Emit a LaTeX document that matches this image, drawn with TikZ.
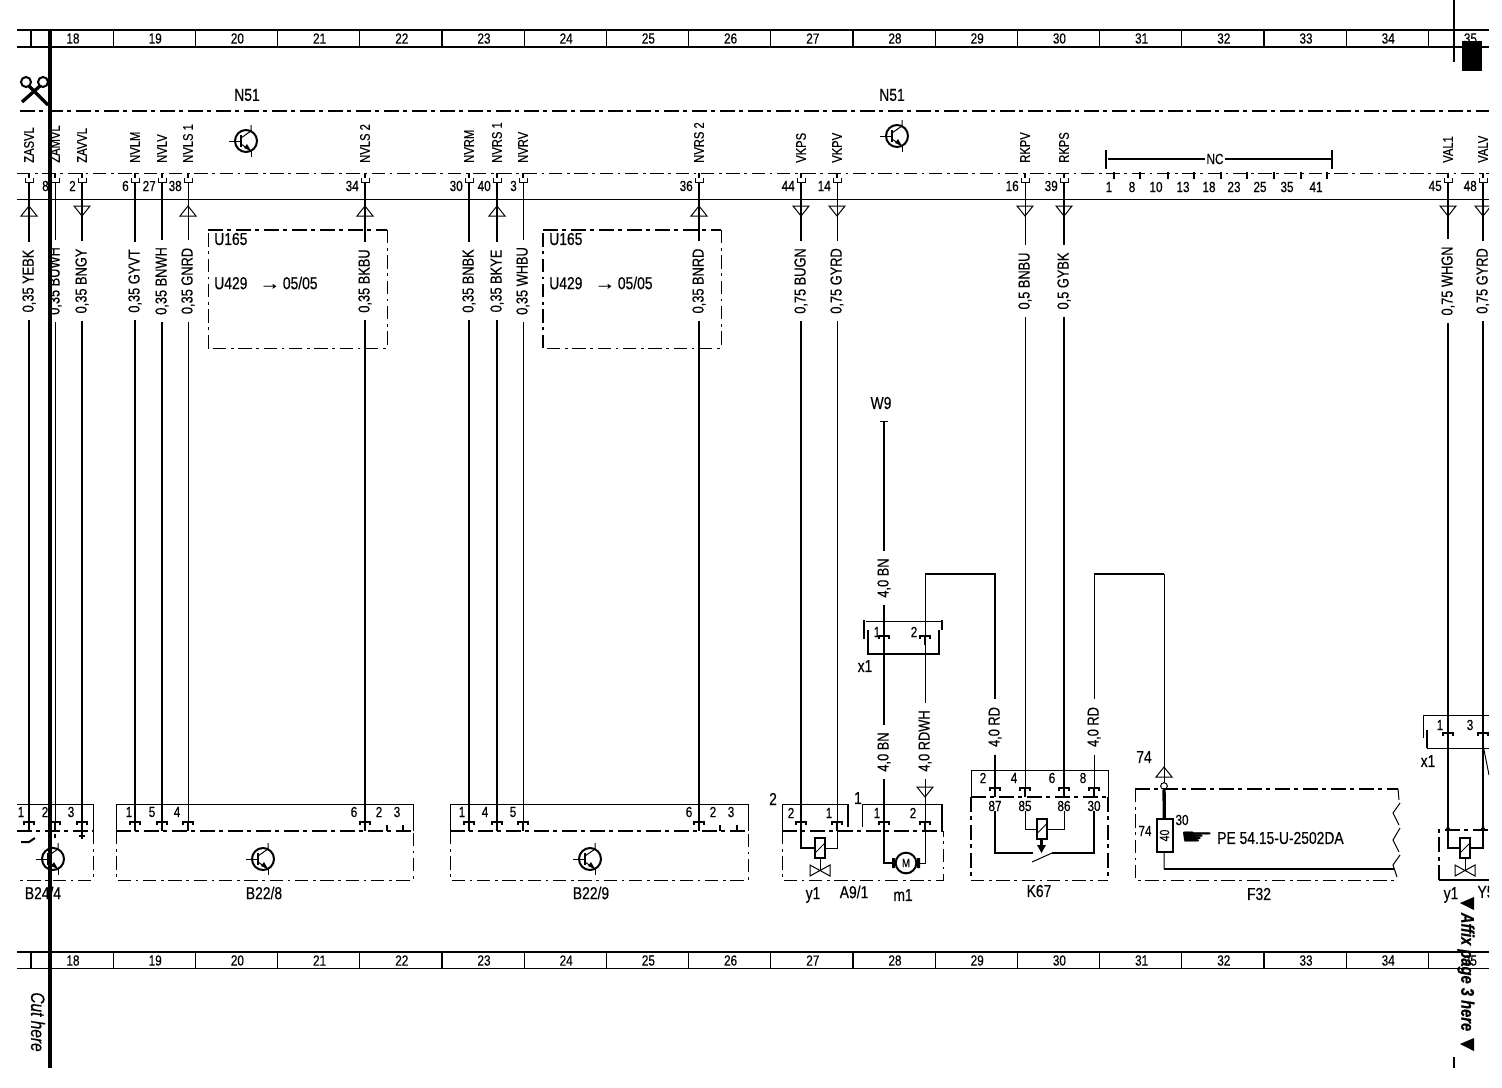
\documentclass[tikz,border=0pt]{standalone}
\usepackage{fontspec}
\setmainfont[FakeStretch=0.8,FakeBold=0.4]{Liberation Sans}
\newfontfamily\handfont{DejaVu Sans}
\tikzset{
	wirethick/.style={line width=1.5pt},
	wirethin/.style={line width=.75pt},
	dashthick/.style={line width=1.5pt,dash pattern=on 11pt off 3.5pt on 3pt off 3.5pt},
	dashthin/.style={line width=.75pt,dash pattern=on 10pt off 3.5pt on 2pt off 3.5pt},
	lab/.style={inner sep=0pt,font=\fontsize{11}{12}\selectfont},
	biglab/.style={inner sep=0pt,font=\fontsize{13}{14}\selectfont},
	siglab/.style={inner sep=0pt,font=\fontsize{10.5}{12}\selectfont,rotate=90,anchor=west},
	wirelab/.style={inner xsep=5.5pt,inner ysep=1pt,rotate=90,font=\fontsize{12}{13}\selectfont},
	pinup/.pic={
		\draw [line width=2pt] (0,-9) -- (0,-4);
		\draw [wirethin] (-4,-4) -- (-4,0) -- (4,0) -- (4,-4);
	},
	pindown/.pic={
		\draw [wirethick] (-5,3) -- (-5,0) -- (5,0) -- (5,3);
		\draw [line width=2pt] (0,0) -- (0,9);
	},
	triup/.pic={\draw [wirethin] (-8,5) -- (0,-5) -- (8,5) -- cycle;},
	tridown/.pic={\draw [wirethin] (-8,-5) -- (0,5) -- (8,-5) -- cycle;},
	trinone/.pic={},
	transistor/.pic={
		\draw [wirethick] (0,0) circle (11);
		\draw [wirethin] (-17,0) -- (-5,0);
		\draw [wirethick] (-5,-6) -- (-5,6);
		\draw [wirethin] (-5,-3) -- (5,-10) -- (5,-16);
		\draw [wirethin] (5,10) -- (5,16);
		\draw [wirethin] (-5,3) -- (5,10);
		\fill (5,10) -- (-2,7) -- (1,3) -- cycle;
	},
	valve/.pic={
		\draw [wirethin] (0,10) -- (0,22);
		\draw [wirethick] (-5,-10) rectangle (5,10);
		\draw [wirethin] (-5,5) -- (5,-5);
		\draw [wirethin] (-10,17) -- (10,28) -- (10,17) -- (-10,28) -- cycle;
	},
}
\begin{document}
\begin{tikzpicture}[x=.75pt,y=-.75pt]
	\useasboundingbox (0,0) rectangle (1502,1088);
	\clip (0,0) rectangle (1489,1088);
	% Rulers
	\foreach \y/\yb/\w in {30/47/wirethick,952/968/wirethin} {
		\draw [wirethick] (17,\y) -- (1489,\y);
		\draw [\w] (17,\yb) -- (1489,\yb);
		\foreach \n [evaluate=\n as \xa using 31+82.2*\n, evaluate=\n as \col using int(18+\n)] in {0,...,17} {
			\draw [line width=1pt] (\xa,\y) -- (\xa,\yb);
			\node [lab] (col\col at\y) at (\xa+42,\y+8.5) {\col};
		}
	}
	% Scissors
	\draw [line width=1.5pt] (26,82) circle (5) (43,82) circle (5);
	\draw [line width=2.5pt] (29,86) -- (48,105) (40,86) -- (22,102);
	% Header
	\draw [dashthick] (20,111) -- (1489,111);
	\draw [dashthin] (17,173) -- (1489,173);
	\draw [wirethin] (17,199) -- (1489,199);
	\node [biglab] (n51a) at (247,95) {N51};
	\node [biglab] (n51b) at (892,95) {N51};
	\pic at (246,141) {transistor};
	\pic at (897,136) {transistor};
	% Wires
	\foreach \x/\sig/\nr/\wt/\gauge/\tri/\yend in {
		29/ZASVL//wirethick/{0,35 YEBK}/triup/822,
		55/ZAMVL/8/wirethin/{0,35 BUWH}/trinone/822,
		82/ZAVVL/2/wirethick/{0,35 BNGY}/tridown/822,
		135/NVLM/6/wirethick/{0,35 GYVT}/trinone/822,
		162/NVLV/27/wirethick/{0,35 BNWH}/trinone/822,
		188/NVLS 1/38/wirethin/{0,35 GNRD}/triup/822,
		365/NVLS 2/34/wirethick/{0,35 BKBU}/triup/822,
		469/NVRM/30/wirethick/{0,35 BNBK}/trinone/822,
		497/NVRS 1/40/wirethick/{0,35 BKYE}/triup/822,
		523/NVRV/3/wirethin/{0,35 WHBU}/trinone/822,
		699/NVRS 2/36/wirethick/{0,35 BNRD}/triup/822,
		801/VKPS/44/wirethick/{0,75 BUGN}/tridown/822,
		837/VKPV/14/wirethin/{0,75 GYRD}/tridown/822,
		1025/RKPV/16/wirethin/{0,5 BNBU}/tridown/788,
		1064/RKPS/39/wirethick/{0,5 GYBK}/tridown/788,
		1448/VAL1/45/wirethick/{0,75 WHGN}/tridown/733,
		1483/VALV/48/wirethick/{0,75 GYRD}/tridown/733%
	} {
		\node [siglab] (sig\x) at (\x,163) {\sig};
		\pic at (\x,182) {pinup};
		\node [lab,anchor=east] (nr\x) at (\x-6,186) {\nr};
		\coordinate (top\x) at (\x,182);
		\node [wirelab] (gauge\x) at (\x,281) {\gauge};
		\coordinate (bot\x) at (\x,\yend);
		\draw [\wt] (top\x) -- (gauge\x);
		\draw [\wt] (gauge\x) -- (bot\x);
		\pic at (\x,211) {\tri};
		\pic at (\x,\yend) {pindown};
	}
	% NC
	\draw [wirethick] (1106,150) -- (1106,169) (1332,150) -- (1332,169);
	\node [lab,fill=white,inner xsep=1pt] (nc) at (1215,159) {NC};
	\draw [wirethick] (1108,159) -- (nc) -- (1332,159);
	\foreach \x/\nr/\xn in {1114/1/1109,1140/8/1132,1168/10/1156,1194/13/1183,1221/18/1209,1247/23/1234,1274/25/1260,1301/35/1287,1327/41/1316} {
		\draw [line width=2pt] (\x,172) -- (\x,179);
		\node [lab] (ncpin\nr) at (\xn,187) {\nr};
	}
	% Boxes U165
	\foreach \xa/\xb/\s in {208/387/wirethin,543/721/wirethick} {
		\draw [dashthick] (\xa,230) -- (\xb,230);
		\draw [dashthin] (\xb,230) -- (\xb,348) -- (\xa,348);
		\draw [dashthin,\s] (\xa,348) -- (\xa,230);
		\node [biglab,anchor=west] (ua\xa) at (\xa+6,239) {U165};
		\node [biglab,anchor=west] (ub\xa) at (\xa+6,283) {U429\hspace{9pt}\scalebox{1.5}[1]{→}\hspace{2pt}05/05};
	}
	% Sensor B24/4
	\draw [wirethin] (17,804) -- (93,804) -- (93,831);
	\draw [dashthick] (17,831) -- (93,831);
	\draw [dashthin] (93,831) -- (93,880) -- (17,880);
	\draw [wirethick] (21,842) -- (29,842) -- (35,838);
	\draw [wirethick] (82,832) -- (82,839) (79,836) -- (85,836);
	\draw [wirethick] (55,834) -- (55,838);
	\pic at (53,859) {transistor};
	\foreach \x/\nr in {21/1,45/2,71/3} {
		\node [lab] (bp\nr) at (\x,812) {\nr};
	}
	\node [biglab] (b244) at (43,893) {B24/4};
	% Sensors B22
	\foreach \xa/\xb/\nam/\xn in {116/413/{B22/8}/264,450/748/{B22/9}/591} {
		\draw [wirethin] (\xa,831) -- (\xa,804) -- (\xb,804) -- (\xb,831);
		\draw [dashthick] (\xa,831) -- (\xb,831);
		\draw [dashthin] (\xa,831) -- (\xa,880) -- (\xb,880) -- (\xb,831);
		\pic at (\xn-1,859) {transistor};
		\node [biglab] (sens\xa) at (\xn,893) {\nam};
	}
	\foreach \x/\nr in {129/1,152/5,177/4,354/6,379/2,397/3,462/1,485/4,513/5,689/6,713/2,731/3} {
		\node [lab] (bn\x) at (\x,812) {\nr};
	}
	\foreach \x in {387,403,720,737} {
		\draw [line width=2pt] (\x,825) -- (\x,831);
	}
	% A9/1
	\draw [wirethin] (782,831) -- (782,804) -- (848,804);
	\draw [wirethick] (848,804) -- (848,827);
	\draw [wirethin] (862,827) -- (862,804) -- (942,804);
	\draw [wirethick] (942,804) -- (942,831);
	\draw [dashthick] (782,831) -- (943,831);
	\draw [dashthin] (782,831) -- (782,880) -- (943,880) -- (943,831);
	\node [biglab] (apo) at (773,799) {2};
	\node [biglab] (apq) at (858,798) {1};
	\foreach \x/\y/\nr in {791/813/2,829/813/1,877/813/1,913/813/2} {
		\node [lab] (ap\x) at (\x,\y) {\nr};
	}
	\pic at (820,848) {valve};
	\coordinate (y1l) at (815,848);
	\coordinate (y1r) at (825,848);
	\draw [wirethick] (801,831) |- (y1l);
	\draw [wirethin] (837,831) |- (y1r);
	\node [draw,circle,wirethick,minimum size=15.5pt,inner sep=0pt,font=\fontsize{9}{10}\selectfont] (m1) at (906,863) {M};
	\fill (892,858) rectangle (895,868) (917,858) rectangle (920,868);
	\draw [wirethick] (884,831) |- (m1);
	\draw [wirethin] (925,831) |- (m1);
	\node [biglab] (y1) at (813,895) {y1};
	\node [biglab] (a91) at (854,892) {A9/1};
	\node [biglab] (m1lab) at (903,895) {m1};
	% Feed W9
	\node [biglab] (w9) at (881,403) {W9};
	\draw [wirethin] (880,421) -- (888,421);
	\coordinate (w9end) at (884,421);
	\node [wirelab] (bna) at (884,578) {4,0 BN};
	\coordinate (xpa) at (884,636);
	\coordinate (xpaend) at (884,645);
	\node [wirelab] (bnb) at (884,752) {4,0 BN};
	\coordinate (motpa) at (884,822);
	\draw [wirethick] (w9end) -- (bna);
	\draw [wirethick] (bna) -- (xpa);
	\draw [wirethick] (xpaend) -- (bnb);
	\draw [wirethick] (bnb) -- (motpa);
	\pic at (884,636) {pindown};
	\pic at (884,822) {pindown};
	% X1
	\draw [wirethick] (864,620) -- (864,639) (942,620) -- (942,630);
	\draw [wirethin] (866,621) -- (941,621);
	\draw [wirethick] (868,630) -- (868,654) -- (939,654) -- (939,630);
	\node [lab] (x1a) at (877,632) {1};
	\node [lab] (x1b) at (914,632) {2};
	\node [biglab] (x1) at (865,666) {x1};
	% RDWH
	\coordinate (rdc) at (925,574);
	\coordinate (rdd) at (995,574);
	\node [wirelab] (rdwh) at (925,741) {4,0 RDWH};
	\coordinate (motpb) at (925,822);
	\node [wirelab] (rda) at (995,727) {4,0 RD};
	\coordinate (kpa) at (995,788);
	\draw [wirethin] (rdc) -- (rdwh);
	\draw [wirethin] (rdwh) -- (motpb);
	\draw [wirethick] (rdc) -- (rdd) -- (rda);
	\draw [wirethick] (rda) -- (kpa);
	\pic at (925,636) {pindown};
	\pic at (925,792) {tridown};
	\pic at (925,822) {pindown};
	\pic at (995,788) {pindown};
	% K67
	\draw [wirethin] (971,797) -- (971,770) -- (1108,770) -- (1108,797);
	\draw [dashthick] (971,797) -- (1108,797);
	\draw [dashthick] (971,797) -- (971,880);
	\draw [dashthick] (1108,797) -- (1108,880);
	\draw [dashthin] (971,880) -- (1108,880);
	\foreach \x/\nr in {983/2,1014/4,1052/6,1083/8} {
		\node [lab] (kt\nr) at (\x,778) {\nr};
	}
	\foreach \x/\nr in {995/87,1025/85,1064/86,1094/30} {
		\node [lab] (kb\nr) at (\x,806) {\nr};
	}
	\draw [wirethick] (1036.5,819) rectangle (1046.5,839);
	\draw [wirethin] (1036.5,834) -- (1046.5,824);
	\draw [line width=2pt] (1041.5,839) -- (1041.5,846);
	\fill (1037,845) -- (1046,845) -- (1041.5,853) -- cycle;
	\coordinate (swl) at (1033,853);
	\coordinate (swr) at (1052,853);
	\draw [wirethick] (kb87) |- (swl);
	\draw [wirethin] (swl) ++(-1,9) -- (swr);
	\draw [wirethick] (swr) -| (kb30);
	\draw [wirethin] (kb85) |- (1036.5,829);
	\draw [wirethin] (kb86) |- (1046.5,829);
	\node [biglab] (k67) at (1039,891) {K67};
	% Feed F32
	\coordinate (rde) at (1094,574);
	\coordinate (rdf) at (1164,574);
	\node [wirelab] (rdb) at (1094,727) {4,0 RD};
	\coordinate (kpd) at (1094,788);
	\node [circle,draw,wirethin,minimum size=5pt,inner sep=0pt] (f32in) at (1164,786) {};
	\draw [wirethin] (rde) -- (rdb);
	\draw [wirethin] (rdb) -- (kpd);
	\draw [wirethick] (rde) -- (rdf);
	\draw [wirethin] (rdf) -- (f32in);
	\pic at (1094,788) {pindown};
	\pic at (1164,772) {triup};
	\node [biglab] (n74) at (1144,757) {74};
	% F32
	\draw [dashthick] (1135,789) -- (1398,789);
	\draw [dashthin] (1135,789) -- (1135,880) -- (1398,880);
	\draw [wirethin] (1398,789) -- (1399,800) (1400,803) -- (1393,813) -- (1399,825) (1400,828) -- (1393,840) -- (1399,852) (1400,855) -- (1393,865) -- (1397,877);
	\node [draw,wirethick,minimum width=12pt,minimum height=24.5pt,inner sep=0pt,font=\fontsize{10}{10}\selectfont] (fuse) at (1164.5,835.5) {\rotatebox{90}{40}};
	\draw [line width=2.5pt] (f32in) -- (fuse);
	\coordinate (f32end) at (1394,869);
	\draw [wirethin] (fuse) -- (1164,869);
	\draw [wirethick] (1164,869) -- (f32end);
	\node [lab] (n74b) at (1145,831) {74};
	\node [lab] (n30) at (1182,820) {30};
	\node [inner sep=0pt] (hand) at (1197,838) {\scalebox{1.9}[1.1]{\handfont\fontsize{15}{15}\selectfont ☛}};
	\node [biglab,anchor=west] (pe) at (1217,838) {PE 54.15-U-2502DA};
	\node [biglab] (f32) at (1259,894) {F32};
	% Right edge
	\draw [wirethin] (1489,715) -- (1423,715) -- (1423,738);
	\draw [wirethick] (1427,730) -- (1427,748);
	\draw [wirethin] (1427,748) -- (1489,748);
	\node [lab] (xra) at (1440,725) {1};
	\node [lab] (xrb) at (1470,725) {3};
	\node [biglab] (xr) at (1428,761) {x1};
	\coordinate (vala) at (1448,742);
	\coordinate (valb) at (1483,742);
	\coordinate (yl) at (1459,848);
	\coordinate (yr) at (1470,848);
	\draw [wirethick] (vala) |- (yl);
	\draw [wirethick] (valb) |- (yr);
	\draw [wirethin] (1483,745) -- (1489,775);
	\fill (1448,829) circle (2) (1483,829) circle (2);
	\pic at (1465,848) {valve};
	\draw [dashthick] (1439,880) -- (1439,830) -- (1489,830);
	\draw [wirethick] (1439,880) -- (1489,880);
	\node [biglab] (yy) at (1451,895) {y1};
	\node [biglab] (y5) at (1486,892) {Y5};
	% Cut marks
	\draw [line width=2.7pt] (50,30) -- (50,1068);
	\draw [line width=2.2pt] (1454,0) -- (1454,62);
	\draw [line width=2.2pt] (1454,1057) -- (1454,1068);
	\fill (1462,41) rectangle (1482,71);
	\fill (1460,903) -- (1474,897) -- (1474,910) -- cycle;
	\fill (1460,1044) -- (1474,1038) -- (1474,1051) -- cycle;
	\node [inner sep=0pt,rotate=-90,font=\fontsize{14.5}{16}\selectfont\itshape] (cut) at (38,1022) {Cut here};
	\node [inner sep=0pt,rotate=-90,font=\fontsize{13.8}{16}\selectfont\bfseries\itshape] (affix) at (1466,972) {Affix page 3 here};
\end{tikzpicture}
\end{document}
